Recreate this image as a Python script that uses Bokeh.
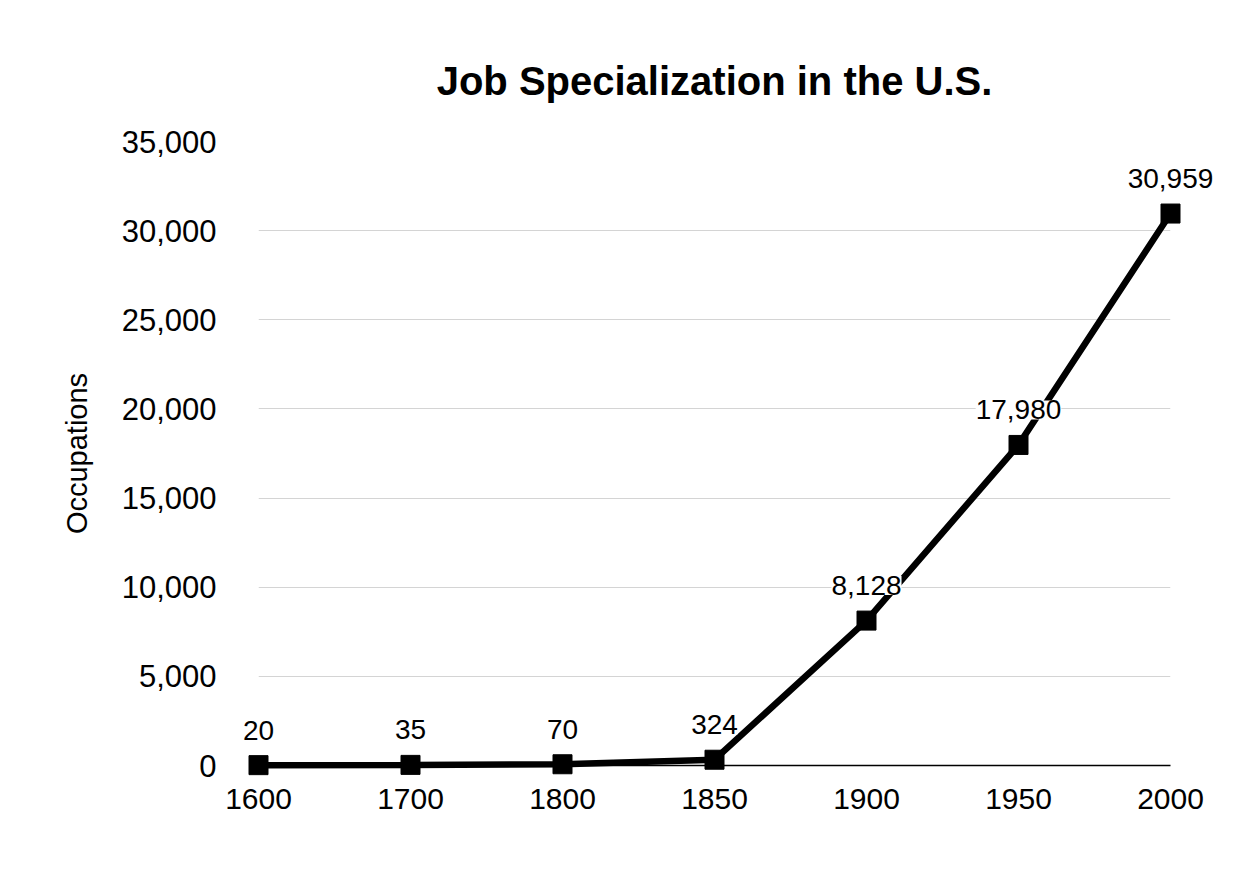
from bokeh.plotting import figure
from bokeh.models import Range1d, FixedTicker, ColumnDataSource, Title, NumeralTickFormatter
from bokeh.core.properties import value
from bokeh.embed import file_html
from bokeh.resources import INLINE

years = ["1600", "1700", "1800", "1850", "1900", "1950", "2000"]
occupations = [20, 35, 70, 324, 8128, 17980, 30959]
y_ticks = [0, 5000, 10000, 15000, 20000, 25000, 30000, 35000]

FONT = "Liberation Sans"
xs = list(range(len(years)))
src = ColumnDataSource(dict(x=xs, y=occupations, lbl=[f"{v:,}" for v in occupations]))

p = figure(width=1260, height=880, output_backend="svg", toolbar_location=None,
           x_range=Range1d(0, len(years) - 1), y_range=Range1d(0, 35000),
           min_border_left=258, min_border_right=90, min_border_top=141, min_border_bottom=115)
p.outline_line_color = None
p.background_fill_color = "white"

t = Title(text="Job Specialization in the U.S.", align="center", text_font=FONT,
          text_font_size="40px", text_font_style="bold", text_color="black", standoff=77)
p.title = t

p.xaxis.ticker = FixedTicker(ticks=xs)
p.xaxis.major_label_overrides = {i: y for i, y in enumerate(years)}
p.xaxis.major_tick_line_color = None
p.xaxis.minor_tick_line_color = None
p.xaxis.axis_line_color = "black"
p.xaxis.axis_line_width = 1.5
p.xaxis.major_label_text_font = FONT
p.xaxis.major_label_text_font_size = "30px"
p.xaxis.major_label_text_color = "black"
p.xaxis.major_label_standoff = 17

p.yaxis.ticker = FixedTicker(ticks=y_ticks)
p.yaxis.formatter = NumeralTickFormatter(format="0,0")
p.yaxis.axis_line_color = None
p.yaxis.major_tick_line_color = None
p.yaxis.minor_tick_line_color = None
p.yaxis.major_label_text_font = FONT
p.yaxis.major_label_text_font_size = "31px"
p.yaxis.major_label_text_color = "black"
p.yaxis.major_label_standoff = 36
p.yaxis.axis_label = "Occupations"
p.yaxis.axis_label_text_font = FONT
p.yaxis.axis_label_text_font_size = "29px"
p.yaxis.axis_label_text_font_style = "normal"
p.yaxis.axis_label_text_color = "black"
p.yaxis.axis_label_standoff = 26

p.xgrid.grid_line_color = None
p.ygrid.ticker = FixedTicker(ticks=y_ticks[1:])
p.ygrid.grid_line_color = "#d4d4d4"
p.ygrid.grid_line_width = 1

ln = p.line("x", "y", source=src, line_color="black", line_width=6.5, level="overlay")
mk = p.scatter("x", "y", source=src, marker="square", size=19, fill_color="black",
               line_color="black", level="overlay")

txt = p.text("x", "y", text="lbl", source=src, y_offset=-35, text_align="center",
             text_baseline="middle", text_font=value(FONT), text_font_size="28px",
             text_color="black", background_fill_color="white", level="overlay")

open("out.html", "w").write(file_html(p, INLINE))
